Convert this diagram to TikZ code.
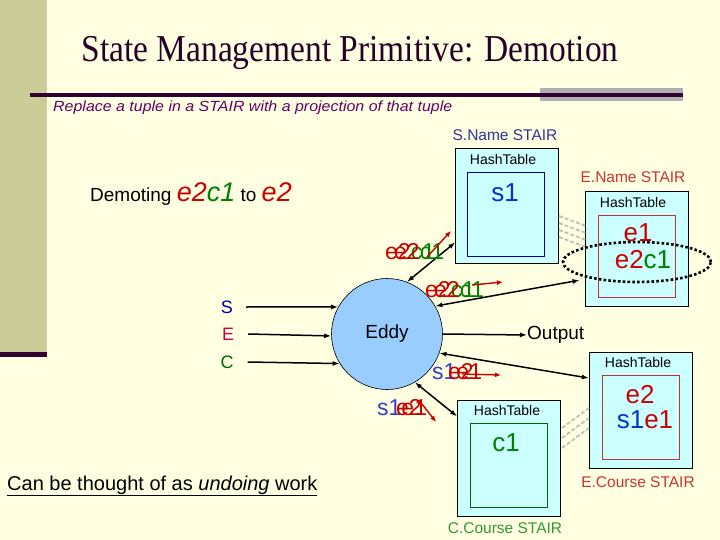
\documentclass[tikz,border=0pt]{standalone}
\usepackage{graphicx}
\usepackage{fontspec}
\setmainfont{Liberation Sans}
\newfontfamily\serifT{Liberation Serif}
\usetikzlibrary{arrows.meta,shapes.geometric}
\definecolor{bg}{RGB}{255,255,225}
\definecolor{barc}{RGB}{204,204,153}
\definecolor{darkp}{RGB}{51,0,51}
\definecolor{grayr}{RGB}{175,175,180}
\definecolor{subp}{RGB}{102,0,102}
\definecolor{titlec}{RGB}{40,0,40}
\definecolor{boxc}{RGB}{204,255,255}
\definecolor{eddyc}{RGB}{153,204,255}
\definecolor{tred}{RGB}{204,0,0}
\definecolor{tgreen}{RGB}{0,128,0}
\definecolor{tblue}{RGB}{0,51,204}
\definecolor{sblue}{RGB}{0,0,153}
\definecolor{snlab}{RGB}{51,51,153}
\definecolor{enlab}{RGB}{204,51,51}
\definecolor{cclab}{RGB}{51,153,51}
\definecolor{innerred}{RGB}{190,50,50}
\definecolor{innergreen}{RGB}{0,102,0}
\definecolor{sc}{RGB}{0,0,153}
\definecolor{ec}{RGB}{204,0,80}
\definecolor{cc}{RGB}{0,102,0}
\definecolor{ghostblue}{RGB}{60,60,200}
\tikzset{
  arr/.style={line width=1.5pt, -{Latex[length=7pt,width=5pt]}},
  darr/.style={line width=1.5pt, {Latex[length=7pt,width=5pt]}-{Latex[length=7pt,width=5pt]}},
  redarr/.style={draw=tred, line width=1.4pt, -{Latex[length=6pt,width=5pt]}},
  stair/.style={draw=black, line width=0.8pt, fill=boxc, inner sep=0pt, minimum width=103pt, minimum height=115.5pt},
  innerbox/.style={line width=0.8pt, inner sep=0pt, minimum width=77pt, minimum height=84pt},
  ht/.style={font=\fontsize{14}{15}\selectfont, inner sep=0pt},
  big/.style={font=\fontsize{26}{28}\selectfont, inner sep=0pt},
  ghost/.style={font=\fontsize{23}{24}\selectfont, inner sep=0pt, anchor=west},
  stairlab/.style={font=\fontsize{15.5}{17}\selectfont, inner sep=0pt},
  link/.style={draw=gray!50, line width=1.8pt, dash pattern=on 4pt off 2pt},
  sec/.style={font=\fontsize{18}{20}\selectfont, inner sep=0pt},
}
\begin{document}
\begin{tikzpicture}[x=1pt,y=-1pt]
\useasboundingbox (0,0) rectangle (720,540);
\fill[bg] (0,0) rectangle (720,540);
% left bar and rules
\fill[barc] (0,0) rectangle (47,355);
\fill[darkp] (0,352) rectangle (47,357);
\fill[grayr] (540,88) rectangle (683,101);
\fill[darkp] (30,93) rectangle (683,97);
% title
\node[anchor=base, inner sep=0pt, text=titlec, font=\serifT\fontsize{38}{40}\selectfont] (title) at (350,62) {\scalebox{0.88}[1]{State Management Primitive: Demotion}};
\node[anchor=base west, inner sep=0pt, text=subp, font=\itshape\fontsize{15.5}{17}\selectfont] (sub) at (53,112) {\scalebox{1.03}[0.95]{Replace a tuple in a STAIR with a projection of that tuple}};
% demoting
\node[anchor=base west, inner sep=0pt, font=\fontsize{19}{20}\selectfont] (demo) at (90,202) {Demoting {\fontsize{27}{28}\selectfont\itshape\color{tred}e2\color{tgreen}c1} to {\fontsize{27}{28}\selectfont\itshape\color{tred}e2}};
% S.Name STAIR
\node[stairlab, text=snlab] (snlab) at (505,135) {S.Name STAIR};
\node[stair] (snb) at (507.2,206) {};
\node[innerbox, draw=sblue] (sni) at (506.3,214) {};
\node[ht] (snht) at (503,159) {HashTable};
\node[big, text=tblue] (s1) at (505,193) {s1};
% E.Name STAIR
\node[stairlab, text=enlab] (enlab) at (633,177) {E.Name STAIR};
\node[stair] (enb) at (636.5,249) {};
\node[innerbox, draw=innerred, minimum height=81pt] (eni) at (636.4,256.4) {};
\node[ht] (enht) at (633,202) {HashTable};
\node[big, text=tred] (e1) at (638,233) {e1};
\node[big] (e2c1) at (643,260) {\color{tred}e2\color{tgreen}c1};
% C.Course STAIR
\node[stair] (ccb) at (509,458.4) {};
\node[innerbox, draw=innergreen] (cci) at (508.7,465.3) {};
\node[ht] (ccht) at (507,410) {HashTable};
\node[big, text=tgreen] (c1) at (506,443) {c1};
\node[stairlab, text=cclab] (cclab) at (505,528) {C.Course STAIR};
% E.Course STAIR
\node[stair] (ecb) at (640.8,410.5) {};
\node[innerbox, draw=innerred] (eci) at (640.8,417) {};
\node[ht] (echt) at (638,362) {HashTable};
\node[big, text=tred] (e2) at (640,395) {e2};
\node[big] (s1e1) at (645,420) {\color{tblue}s1\color{tred}e1};
\node[stairlab, text=enlab] (eclab) at (638,482) {E.Course STAIR};
% links between STAIRs
\foreach \i in {0,1,2,3} {
  \draw[link] (559,216+7*\i) -- (586,226+7*\i);
}
\foreach \i in {0,1,2} {
  \draw[link] (562,428+10*\i) -- (589,408+10*\i);
}
% dotted ellipse
\node[ellipse, draw=black, line width=2.6pt, dash pattern=on 2.6pt off 2.2pt, minimum width=148pt, minimum height=40pt, inner sep=0pt] (ell) at (637,262) {};
% Eddy
\node[circle, draw=black, line width=0.6pt, fill=eddyc, minimum size=111pt, inner sep=0pt, font=\fontsize{19}{20}\selectfont] (eddy) at (387,334) {Eddy};
% S E C
\node[sec, text=sc] (S) at (227,307) {S};
\node[sec, text=ec] (E) at (228,334) {E};
\node[sec, text=cc] (C) at (227,362) {C};
\draw[arr] ([xshift=13pt]S.east) -- (eddy.151.6);
\draw[arr] ([xshift=14pt]E.east) -- (eddy.182);
\draw[arr] ([xshift=14pt]C.east) -- (eddy.212.8);
% Output
\node[anchor=west, inner sep=0pt, font=\fontsize{19}{20}\selectfont] (out) at (527,335) {Output};
\draw[arr] (eddy.east) -- (out.west);
% connectors to STAIRs
\draw[darr] (eddy.69.7) -- (snb.215.5);
\draw[darr] (eddy.30.4) -- ([xshift=-5pt]enb.211);
\draw[darr] (eddy.-20) -- (ecb.148.5);
\draw[darr] (eddy.-60) -- (ccb.141);
% ghost labels (overlapping copies, as in the slide)
\node[ghost] (g1) at (385,252) {\rlap{\color{tred}e2\color{tgreen}c1}\hspace{9pt}\color{tred}e2\color{tgreen}c1};
\coordinate (r1s) at (427,257);
\coordinate (r1e) at (451,231);
\draw[redarr] (r1s) -- (r1e);
\node[ghost] (g2) at (425,290) {\rlap{\color{tred}e2\color{tgreen}c1}\hspace{9pt}\color{tred}e2\color{tgreen}c1};
\coordinate (r2s) at (472,285);
\coordinate (r2e) at (503,282);
\draw[redarr] (r2s) -- (r2e);
\node[ghost] (g3) at (432,372) {\rlap{\color{ghostblue}s1\color{tred}e1}\hspace{16pt}\color{tred}e2};
\coordinate (r3s) at (462,374);
\coordinate (r3e) at (501,375);
\draw[redarr] (r3s) -- (r3e);
\node[ghost] (g4) at (377,408) {\rlap{\color{ghostblue}s1\color{tred}e1}\hspace{19pt}\color{tred}e2};
\coordinate (r4s) at (422,404);
\coordinate (r4e) at (436,422);
\draw[redarr] (r4s) -- (r4e);
% bottom text
\node[anchor=base west, inner sep=0pt, font=\fontsize{20}{22}\selectfont] (undo) at (7,490) {\underline{Can be thought of as \textit{undoing} work}};
\end{tikzpicture}
\end{document}
